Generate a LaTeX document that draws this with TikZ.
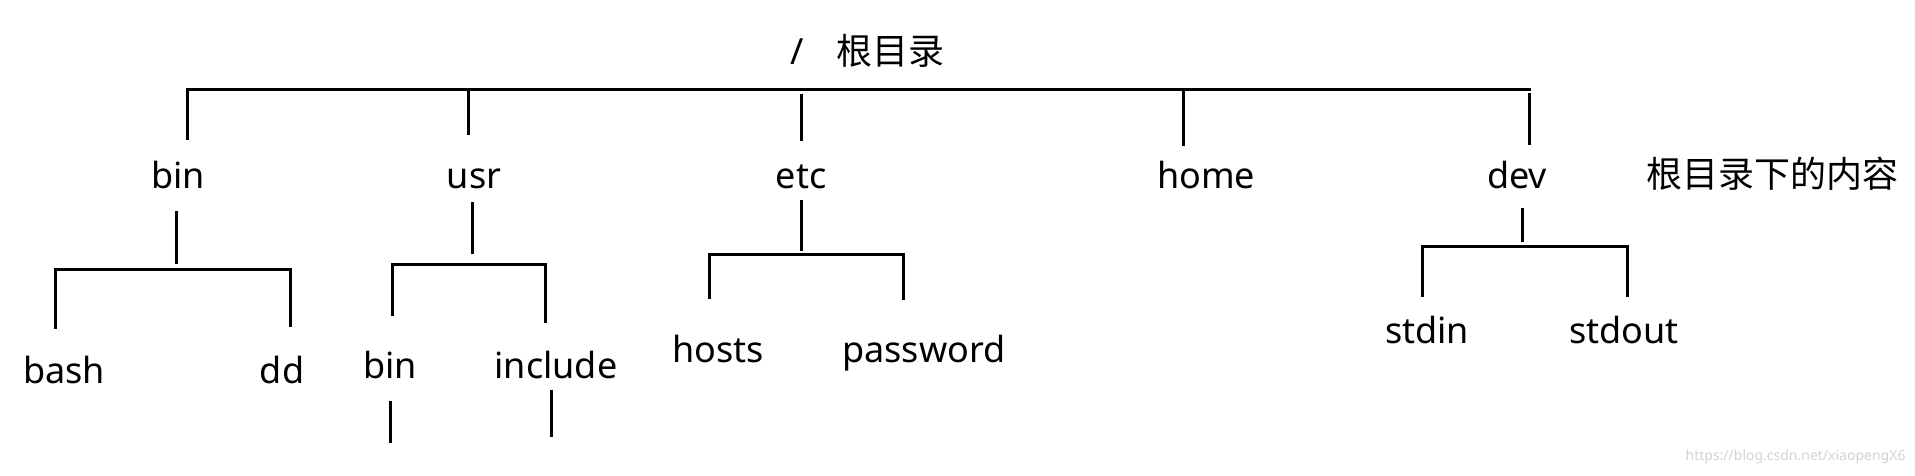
\documentclass[tikz,border=0pt]{standalone}
\usepackage{fontspec}
\setmainfont{Noto Sans}
\newfontfamily\cjk{Noto Sans CJK SC}

\begin{document}
\begin{tikzpicture}[x=1pt, y=-1pt, line width=3pt]
\useasboundingbox (0,0) rectangle (1915,475);
\tikzstyle{every node} = [inner sep=0pt, anchor=base, text height=27pt, text depth=8pt, font=\fontsize{36}{43}\selectfont]
% root and first level
\node[anchor=base west] (root) at (789,64) {/\hspace{33pt}{\cjk 根目录}};
\node (bin) at (178,188) {bin};
\node (usr) at (474,188) {usr};
\node (etc) at (801,188) {etc};
\node (home) at (1206,188) {home};
\node (dev) at (1517,188) {dev};
\node[anchor=base west] (note) at (1645,187) {\cjk 根目录下的内容};
% second level
\node (bash) at (64,383) {bash};
\node (dd) at (282,383) {dd};
\node (ubin) at (390,378) {bin};
\node (inc) at (556,378) {include};
\node (hosts) at (718,362) {hosts};
\node (pw) at (924,362) {password};
\node (sin) at (1427,343) {stdin};
\node (sout) at (1624,343) {stdout};
\node[anchor=base east, font=\fontsize{14}{16}\selectfont, text=gray!35] (mark) at (1907,460) {https://blog.csdn.net/xiaopengX6};
% bars
\coordinate (rbar) at (0,89);
\coordinate (bbar) at (0,269);
\coordinate (ubar) at (0,264);
\coordinate (ebar) at (0,254);
\coordinate (dbar) at (0,246);
\coordinate (ubin-tail) at (390,443);
\coordinate (inc-tail) at (551,437);
% root bar
\draw ([xshift=9pt,yshift=20pt]bin.north) -- ([xshift=9pt]bin.north |- rbar) -- ([xshift=14pt]dev.north |- rbar);
\foreach \n/\dx/\gap/\s in {usr/-6/25/0, etc/0/19/5, home/-23/14/0, dev/12/15/4}
	\draw[shorten <=\s pt] ([xshift=\dx pt]\n.north |- rbar) -- ([xshift=\dx pt,yshift=\gap pt]\n.north);
% stubs down to the child bars
\foreach \n/\dx/\gap/\b/\s in {bin/-2/13/bbar/5, usr/-2/4/ubar/10, etc/0/2/ebar/3, dev/5/10/dbar/4}
	\draw[shorten >=\s pt] ([xshift=\dx pt,yshift=-\gap pt]\n.south) -- ([xshift=\dx pt]\n.south |- \b);
% child bars
\foreach \l/\ldx/\lg/\r/\rdx/\rg/\b in {bash/-9/26/dd/8/28/bbar, ubin/2/34/inc/-11/27/ubar, hosts/-9/35/pw/-21/34/ebar, sin/-5/18/sout/3/18/dbar}
	\draw ([xshift=\ldx pt,yshift=\lg pt]\l.north) -- ([xshift=\ldx pt]\l.north |- \b) -- ([xshift=\rdx pt]\r.north |- \b) -- ([xshift=\rdx pt,yshift=\rg pt]\r.north);
% open ends under usr
\draw ([yshift=-13pt]ubin.south) -- (ubin-tail);
\draw ([xshift=-5pt,yshift=-2pt]inc.south) -- (inc-tail);
\end{tikzpicture}
\end{document}
